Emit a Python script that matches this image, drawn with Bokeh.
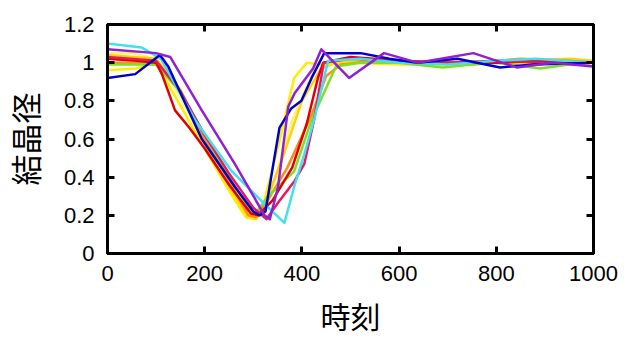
from bokeh.plotting import figure
from bokeh.models import LinearAxis, FixedTicker, Range1d
from bokeh.embed import file_html
from bokeh.resources import INLINE

# ---- data ----
x_ticks = [0, 200, 400, 600, 800, 1000]
y_ticks = [0, 0.2, 0.4, 0.6, 0.8, 1, 1.2]
y_tick_labels = ["0", "0.2", "0.4", "0.6", "0.8", "1", "1.2"]
x_title = "時刻"
y_title = "結晶径"

light_yellow_x = [0, 50, 100, 150, 200, 250, 280, 295, 310, 325, 340, 380, 430, 470, 600, 800, 1000]
light_yellow_y = [1.05, 1.05, 1.02, 0.82, 0.57, 0.36, 0.25, 0.20, 0.19, 0.24, 0.35, 0.70, 0.99, 1.01, 1.0, 1.0, 1.0]

gold_x = [0, 100, 150, 200, 250, 275, 290, 305, 318, 330, 360, 400, 440, 470, 550, 650, 750, 850, 950, 1000]
gold_y = [1.04, 1.02, 0.86, 0.58, 0.35, 0.25, 0.19, 0.18, 0.22, 0.30, 0.50, 0.80, 0.97, 1.0, 1.01, 1.0, 0.99, 1.01, 1.02, 1.01]

yellow_x = [0, 60, 100, 140, 200, 250, 272, 285, 300, 312, 320, 350, 384, 410, 440, 500, 600, 700, 800, 900, 1000]
yellow_y = [0.96, 0.97, 1.0, 0.82, 0.55, 0.33, 0.24, 0.19, 0.18, 0.20, 0.25, 0.55, 0.92, 1.0, 0.99, 1.0, 0.99, 0.99, 1.0, 1.0, 1.0]

orange_x = [0, 50, 100, 150, 200, 250, 290, 305, 330, 370, 419, 450, 480, 550, 650, 750, 850, 950, 1000]
orange_y = [1.0, 1.0, 0.99, 0.85, 0.60, 0.38, 0.20, 0.19, 0.28, 0.45, 0.72, 0.93, 0.99, 1.01, 1.0, 1.0, 1.02, 1.01, 1.0]

green_x = [0, 100, 150, 200, 250, 295, 305, 330, 384, 420, 470, 520, 600, 690, 750, 800, 890, 950, 1000]
green_y = [0.99, 0.99, 0.85, 0.62, 0.40, 0.22, 0.21, 0.30, 0.43, 0.70, 0.98, 1.0, 1.0, 0.975, 0.99, 1.0, 0.97, 0.99, 1.0]

red_x = [0, 60, 100, 112, 139, 168, 200, 250, 295, 310, 340, 380, 410, 433, 444, 500, 600, 700, 800, 900, 1000]
red_y = [1.02, 1.01, 1.0, 0.94, 0.75, 0.66, 0.55, 0.36, 0.21, 0.20, 0.28, 0.45, 0.68, 0.92, 1.0, 1.03, 1.01, 1.0, 1.0, 1.01, 1.0]

crimson_x = [0, 100, 150, 200, 250, 300, 327, 352, 385, 405, 425, 445, 500, 600, 700, 800, 900, 1000]
crimson_y = [1.03, 1.01, 0.85, 0.62, 0.42, 0.24, 0.18, 0.27, 0.38, 0.47, 0.70, 1.0, 1.02, 1.01, 1.0, 1.01, 1.0, 1.0]

cyan_x = [0, 70, 110, 180, 256, 323, 364, 384, 405, 425, 454, 520, 600, 700, 800, 880, 1000]
cyan_y = [1.10, 1.08, 1.02, 0.70, 0.43, 0.26, 0.16, 0.35, 0.52, 0.70, 1.01, 1.02, 1.0, 0.99, 1.01, 1.02, 1.0]

blue_x = [0, 57, 108, 125, 194, 262, 300, 313, 325, 340, 354, 378, 399, 420, 446, 521, 580, 638, 720, 808, 876, 1000]
blue_y = [0.92, 0.94, 1.04, 0.98, 0.60, 0.35, 0.22, 0.20, 0.22, 0.45, 0.66, 0.76, 0.80, 0.92, 1.05, 1.05, 1.02, 1.00, 1.02, 0.975, 0.99, 1.0]

purple_x = [0, 100, 129, 194, 262, 323, 334, 351, 372, 385, 423, 440, 497, 569, 638, 753, 842, 916, 1000]
purple_y = [1.07, 1.05, 1.03, 0.75, 0.47, 0.20, 0.18, 0.35, 0.77, 0.84, 0.97, 1.07, 0.92, 1.05, 1.00, 1.05, 0.975, 1.0, 0.98]

series = [
    (light_yellow_x, light_yellow_y, "#fff27a"),
    (gold_x, gold_y, "#ffd200"),
    (yellow_x, yellow_y, "#ffee00"),
    (orange_x, orange_y, "#ff8c1a"),
    (green_x, green_y, "#80e020"),
    (red_x, red_y, "#e00000"),
    (crimson_x, crimson_y, "#e8185a"),
    (cyan_x, cyan_y, "#40e0f0"),
    (blue_x, blue_y, "#0000cc"),
    (purple_x, purple_y, "#9020d0"),
]

FONT = "Liberation Sans"
CJK = "'Liberation Sans', 'Noto Sans CJK JP'"

p = figure(width=625, height=338, output_backend="svg", toolbar_location=None,
           x_range=Range1d(0, 1000), y_range=Range1d(0, 1.2),
           min_border_left=107, min_border_right=32, min_border_top=24, min_border_bottom=85)
p.grid.visible = False
p.outline_line_color = "black"
p.outline_line_width = 3
p.background_fill_color = "white"
p.border_fill_color = "white"

for xs, ys, c in series:
    p.line(xs, ys, line_color=c, line_width=2.5, line_join="round")

def style(ax):
    ax.axis_line_width = 3
    ax.axis_line_color = "black"
    ax.major_tick_in = 7
    ax.major_tick_out = 0
    ax.major_tick_line_width = 3
    ax.minor_tick_line_color = None
    ax.major_label_text_font = FONT
    ax.major_label_text_font_size = "22px"
    ax.major_label_text_color = "black"

xa = p.xaxis[0]
xa.ticker = FixedTicker(ticks=x_ticks)
style(xa)
xa.major_label_standoff = 12
xa.axis_label = x_title
xa.axis_label_text_font = CJK
xa.axis_label_text_font_size = "30px"
xa.axis_label_text_font_style = "normal"
xa.axis_label_text_color = "black"
xa.axis_label_standoff = 17

ya = p.yaxis[0]
ya.ticker = FixedTicker(ticks=y_ticks)
ya.major_label_overrides = {t: s for t, s in zip(y_ticks, y_tick_labels)}
style(ya)
ya.major_label_standoff = 13
ya.axis_label = y_title
ya.axis_label_text_font = CJK
ya.axis_label_text_font_size = "31px"
ya.axis_label_text_font_style = "normal"
ya.axis_label_text_color = "black"
ya.axis_label_standoff = 16

top = LinearAxis(ticker=FixedTicker(ticks=x_ticks))
style(top)
top.major_label_text_font_size = "1px"
top.major_label_text_color = None
top.major_label_standoff = 0
p.add_layout(top, "above")

right = LinearAxis(ticker=FixedTicker(ticks=y_ticks))
style(right)
right.major_label_text_font_size = "1px"
right.major_label_text_color = None
right.major_label_standoff = 0
p.add_layout(right, "right")

open("out.html", "w").write(file_html(p, INLINE))
